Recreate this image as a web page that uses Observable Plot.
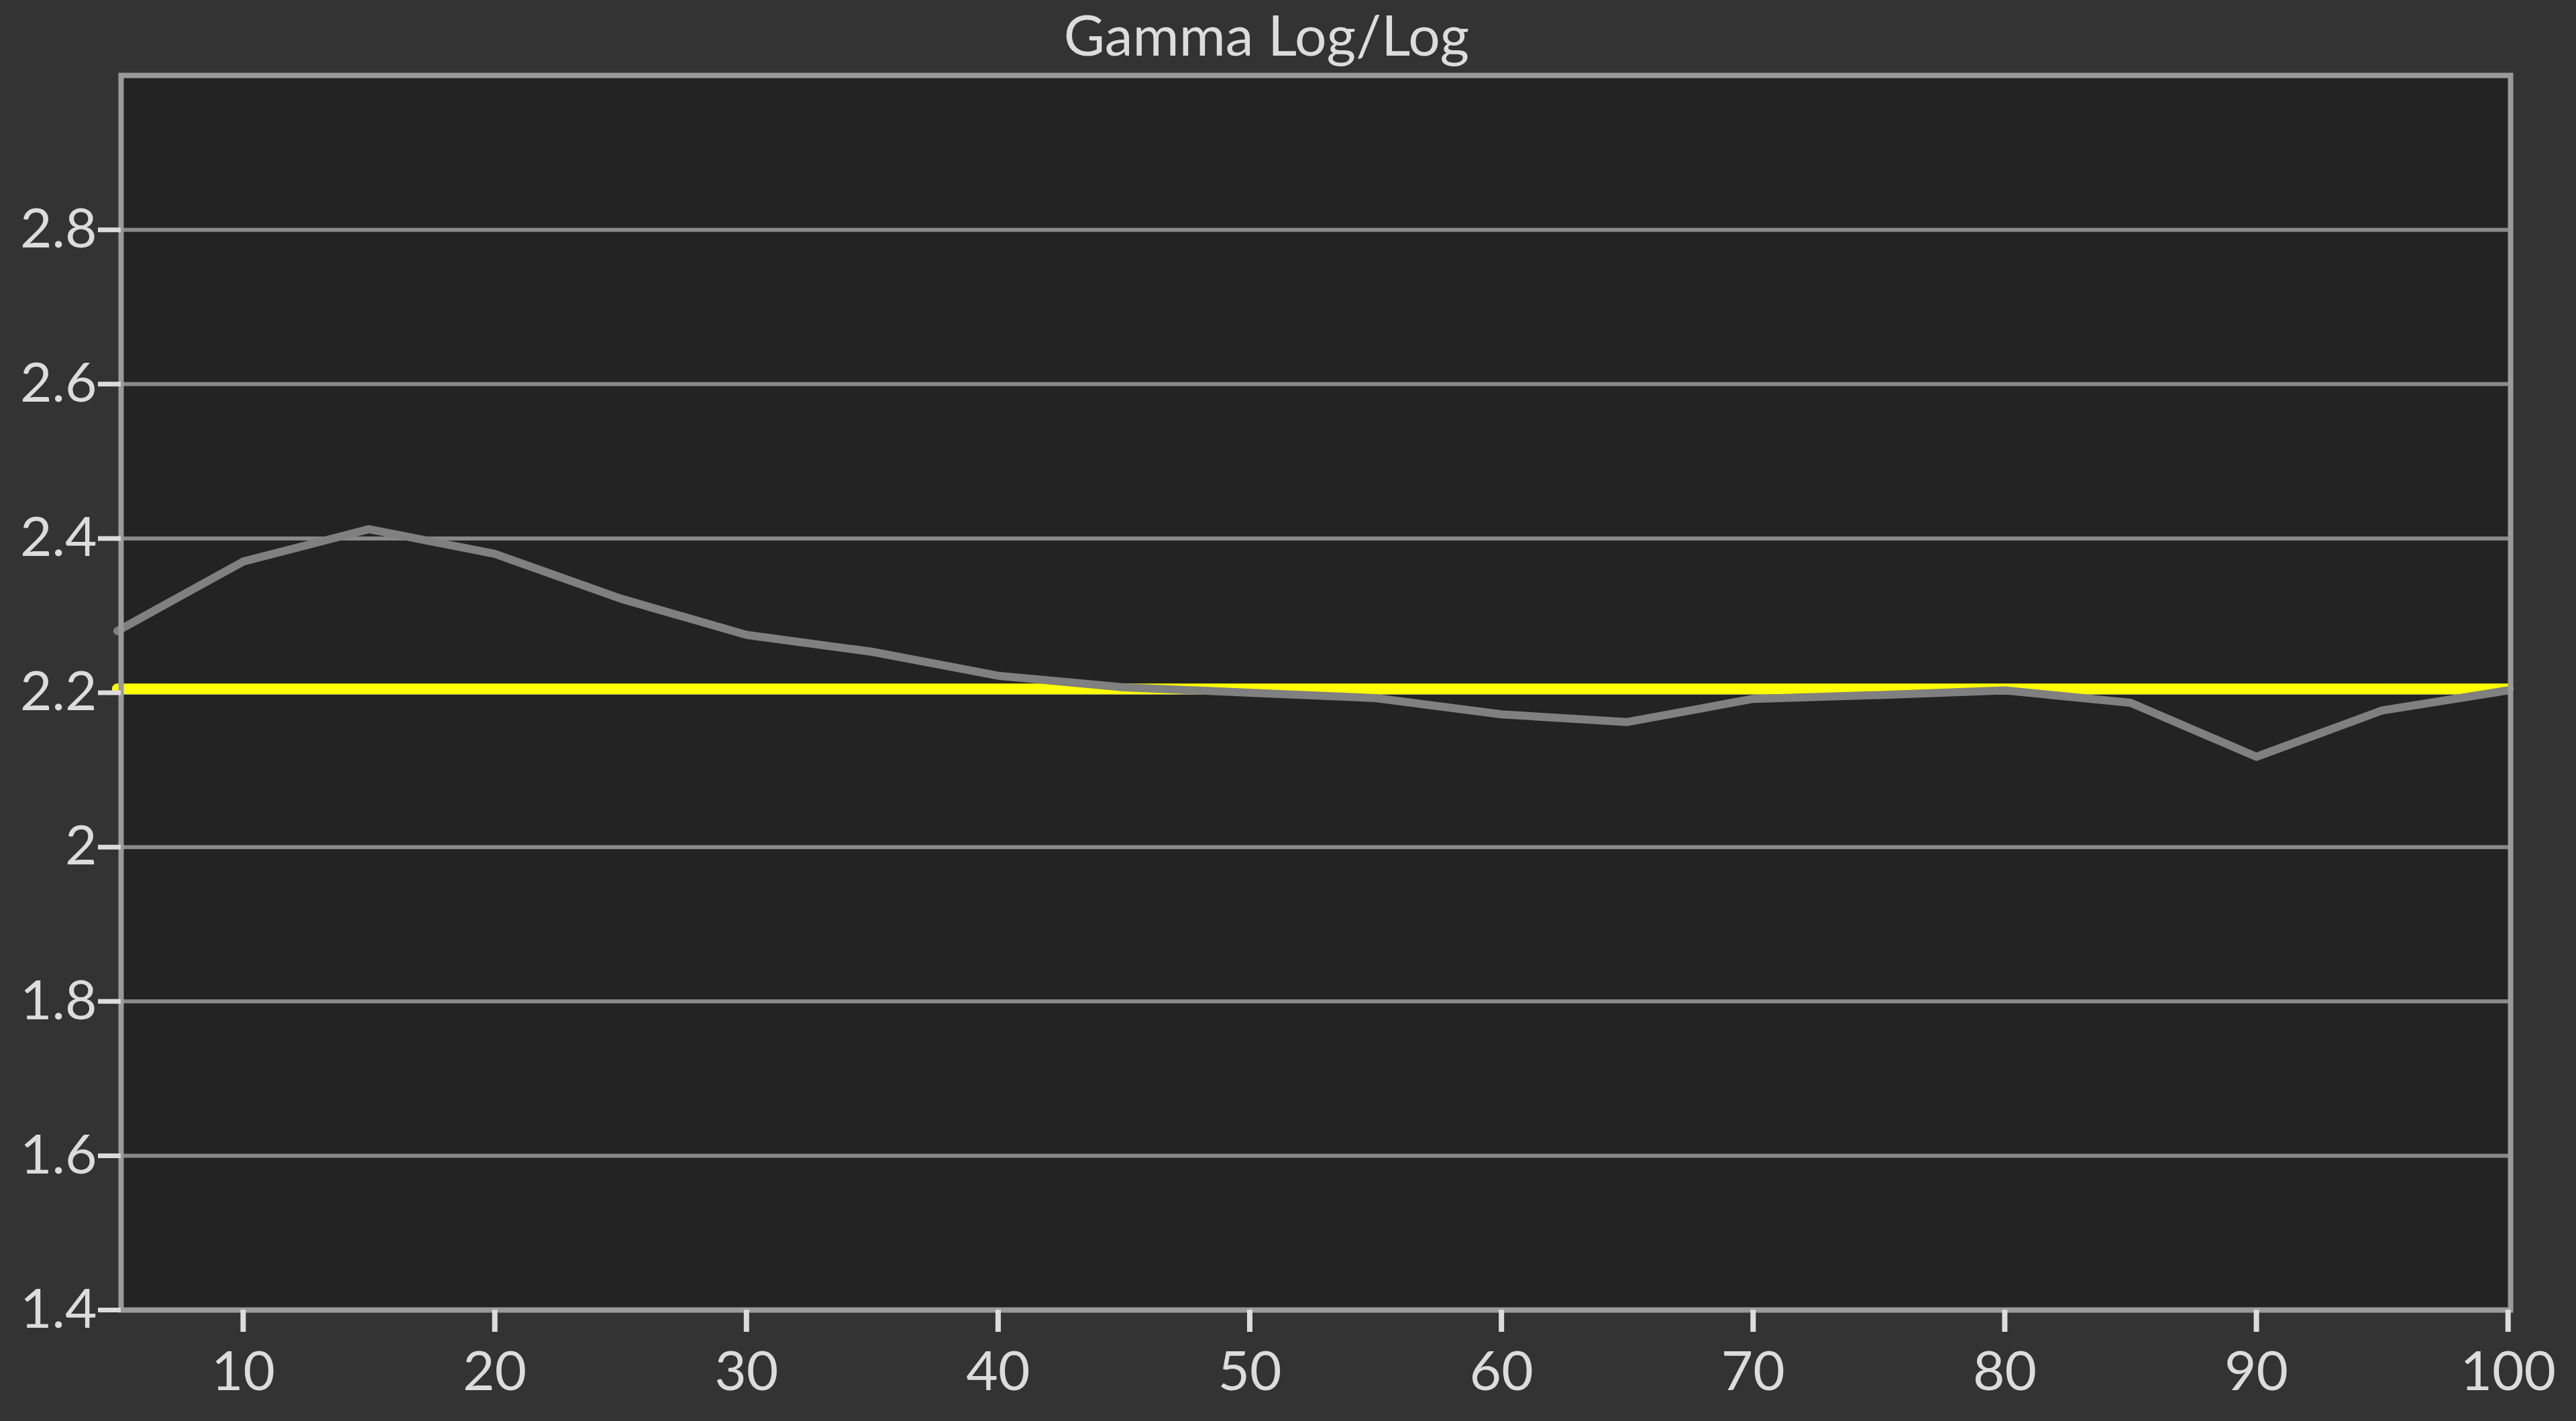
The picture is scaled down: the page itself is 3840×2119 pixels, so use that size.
<!DOCTYPE html>
<html>
<head>
<meta charset="utf-8">
<script src="https://cdn.jsdelivr.net/npm/d3@7"></script>
<script src="https://cdn.jsdelivr.net/npm/@observablehq/plot@0.6"></script>
<style>
  html, body { margin: 0; padding: 0; background: #333333; }
  #title { height: 100px; width: 3840px; position: relative; font-family: Lato, "Open Sans", sans-serif; color: #dcdcdc; }
  #title span { position: absolute; left: 1888px; top: 0px; transform: translateX(-50%); font-size: 84px; white-space: nowrap; }
</style>
</head>
<body>
<div id="title"><span>Gamma Log/Log</span></div>
<div id="chart"></div>
<script>
// Data
const stimulus = [5, 10, 15, 20, 25, 30, 35, 40, 45, 50, 55, 60, 65, 70, 75, 80, 85, 90, 95, 100];
const gamma    = [2.28, 2.37, 2.412, 2.38, 2.322, 2.275, 2.253, 2.222, 2.207, 2.2, 2.193, 2.172, 2.162, 2.192, 2.197, 2.203, 2.187, 2.117, 2.177, 2.203];
const targetGamma = 2.205;
const xTicks = [10, 20, 30, 40, 50, 60, 70, 80, 90, 100];
const xTickLabels = ["10", "20", "30", "40", "50", "60", "70", "80", "90", "100"];
const yTicks = [1.4, 1.6, 1.8, 2.0, 2.2, 2.4, 2.6, 2.8];
const yTickLabels = ["1.4", "1.6", "1.8", "2", "2.2", "2.4", "2.6", "2.8"];
const gridValues = [1.6, 1.8, 2.0, 2.2, 2.4, 2.6, 2.8];

const data = stimulus.map((x, i) => ({x, y: gamma[i]}));
const targetData = stimulus.map(x => ({x, y: targetGamma}));

const chart = Plot.plot({
  width: 3840,
  height: 2019,
  marginLeft: 180,
  marginRight: 98,
  marginTop: 12,
  marginBottom: 166,
  style: { background: "#333333", color: "#dcdcdc", fontFamily: "Lato, 'Open Sans', sans-serif" },
  x: { domain: [5.15, 100.1] },
  y: { domain: [1.4, 3.0] },
  marks: [
    Plot.frame({ fill: "#232323", stroke: null }),
    Plot.gridY(gridValues, { stroke: "#898989", strokeOpacity: 1, strokeWidth: 6 }),
    Plot.line(targetData, { x: "x", y: "y", stroke: "#ffff00", strokeWidth: 16 }),
    Plot.line(data, { x: "x", y: "y", stroke: "#808080", strokeWidth: 12 }),
    Plot.frame({ stroke: "#9a9a9a", strokeWidth: 8 }),
    Plot.axisX(xTicks, { tickFormat: (d, i) => xTickLabels[i], tickSize: 33, tickPadding: 28, fontSize: 82, strokeWidth: 8, label: null }),
    Plot.axisY(yTicks, { tickFormat: (d, i) => yTickLabels[i], tickSize: 34, tickPadding: 2, fontSize: 82, strokeWidth: 7, label: null })
  ]
});
document.getElementById("chart").appendChild(chart);
</script>
</body>
</html>
